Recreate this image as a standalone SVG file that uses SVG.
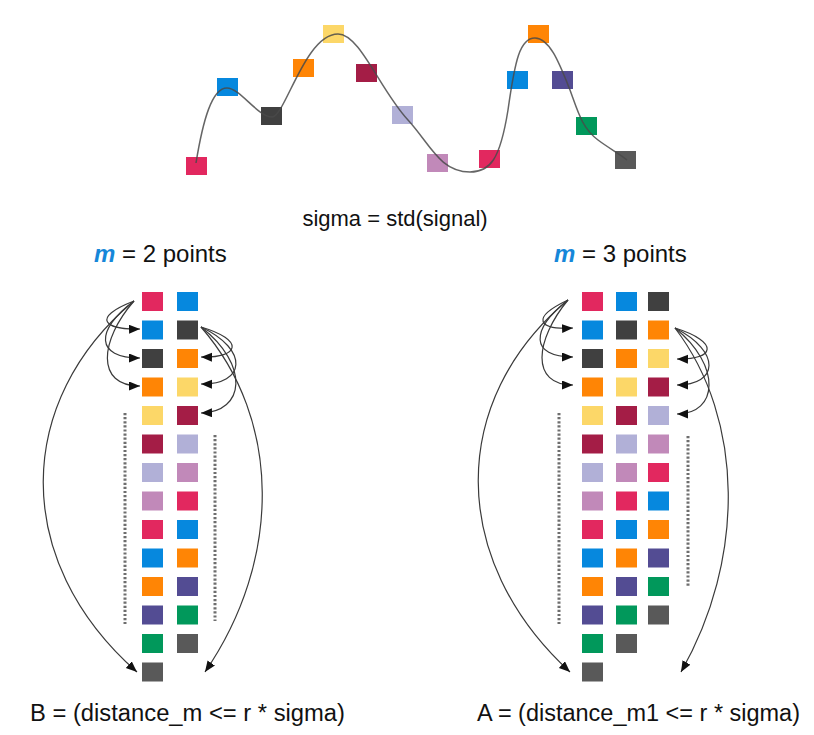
<svg xmlns="http://www.w3.org/2000/svg" width="814" height="735" viewBox="0 0 814 735">
<defs>
<style>
.pk{fill:#e2285f}.bl{fill:#0688de}.dk{fill:#404040}.or{fill:#ff8505}.ye{fill:#fcd768}.cr{fill:#a41d46}.lv{fill:#b1b0d7}.mv{fill:#c189b9}.pu{fill:#534c93}.gr{fill:#01985b}.gy{fill:#595959}
.t{font-family:"Liberation Sans",Arial,sans-serif;fill:#111}
.conn{fill:none;stroke:#3a3a3a;stroke-width:1.2;marker-end:url(#ah)}
.dots{fill:none;stroke:#6e6e6e;stroke-width:3;stroke-dasharray:2.2 1.9}
</style>
<marker id="ah" markerUnits="userSpaceOnUse" markerWidth="12" markerHeight="10" refX="11" refY="4.5" orient="auto">
<path d="M0,0 L11,4.5 L0,9 z" fill="#111"/>
</marker>
</defs>
<rect width="814" height="735" fill="#ffffff"/>

<g id="signal">
<rect class="pk" x="186" y="157" width="21" height="18"/>
<rect class="bl" x="217" y="78" width="21" height="18"/>
<rect class="dk" x="261" y="107" width="21" height="18"/>
<rect class="or" x="293" y="59" width="21" height="18"/>
<rect class="ye" x="323" y="25" width="21" height="18"/>
<rect class="cr" x="356" y="64" width="21" height="18"/>
<rect class="lv" x="392" y="106" width="21" height="18"/>
<rect class="mv" x="427" y="154" width="21" height="18"/>
<rect class="pk" x="479" y="150" width="21" height="18"/>
<rect class="bl" x="507" y="71" width="21" height="18"/>
<rect class="or" x="528" y="25" width="21" height="18"/>
<rect class="pu" x="552" y="71" width="21" height="18"/>
<rect class="gr" x="576" y="117" width="21" height="18"/>
<rect class="gy" x="615" y="151" width="21" height="18"/>
<path d="M196,163 C203,120 212,88 227,88 C240,88 258,117 272,117 C285,117 305,34 338,34 C360,34 380,90 408,120 C430,144 440,172 470,172 C490,172 500,160 508,110 C515,60 520,38 535,38 C550,38 560,65 570,90 C578,112 582,128 598,140 C610,149 620,154 627,160" fill="none" stroke="#4a4a4a" stroke-width="1.5" stroke-opacity="0.85"/>
</g>

<text class="t" x="395" y="226" font-size="22" text-anchor="middle">sigma = std(signal)</text>

<g id="label-m2">
<text class="t" x="94" y="262" font-size="24"><tspan font-weight="bold" font-style="italic" fill="#1687d9">m</tspan> = 2 points</text>
</g>
<g id="label-m3">
<text class="t" x="554" y="262" font-size="24"><tspan font-weight="bold" font-style="italic" fill="#1687d9">m</tspan> = 3 points</text>
</g>

<g id="grid-m2">
<g id="m2-col1">
<rect class="pk" x="142" y="292" width="21" height="19"/>
<rect class="bl" x="142" y="320.5" width="21" height="19"/>
<rect class="dk" x="142" y="349" width="21" height="19"/>
<rect class="or" x="142" y="377.5" width="21" height="19"/>
<rect class="ye" x="142" y="406" width="21" height="19"/>
<rect class="cr" x="142" y="434.5" width="21" height="19"/>
<rect class="lv" x="142" y="463" width="21" height="19"/>
<rect class="mv" x="142" y="491.5" width="21" height="19"/>
<rect class="pk" x="142" y="520" width="21" height="19"/>
<rect class="bl" x="142" y="548.5" width="21" height="19"/>
<rect class="or" x="142" y="577" width="21" height="19"/>
<rect class="pu" x="142" y="605.5" width="21" height="19"/>
<rect class="gr" x="142" y="634" width="21" height="19"/>
<rect class="gy" x="142" y="662.5" width="21" height="19"/>
</g>
<g id="m2-col2">
<rect class="bl" x="177" y="292" width="21" height="19"/>
<rect class="dk" x="177" y="320.5" width="21" height="19"/>
<rect class="or" x="177" y="349" width="21" height="19"/>
<rect class="ye" x="177" y="377.5" width="21" height="19"/>
<rect class="cr" x="177" y="406" width="21" height="19"/>
<rect class="lv" x="177" y="434.5" width="21" height="19"/>
<rect class="mv" x="177" y="463" width="21" height="19"/>
<rect class="pk" x="177" y="491.5" width="21" height="19"/>
<rect class="bl" x="177" y="520" width="21" height="19"/>
<rect class="or" x="177" y="548.5" width="21" height="19"/>
<rect class="pu" x="177" y="577" width="21" height="19"/>
<rect class="gr" x="177" y="605.5" width="21" height="19"/>
<rect class="gy" x="177" y="634" width="21" height="19"/>
</g>
<line class="dots" x1="125" y1="413" x2="125" y2="624"/>
<line class="dots" x1="215" y1="435" x2="215" y2="621"/>
</g>

<g id="grid-m3">
<g id="m3-col1">
<rect class="pk" x="582" y="292" width="21" height="19"/>
<rect class="bl" x="582" y="320.5" width="21" height="19"/>
<rect class="dk" x="582" y="349" width="21" height="19"/>
<rect class="or" x="582" y="377.5" width="21" height="19"/>
<rect class="ye" x="582" y="406" width="21" height="19"/>
<rect class="cr" x="582" y="434.5" width="21" height="19"/>
<rect class="lv" x="582" y="463" width="21" height="19"/>
<rect class="mv" x="582" y="491.5" width="21" height="19"/>
<rect class="pk" x="582" y="520" width="21" height="19"/>
<rect class="bl" x="582" y="548.5" width="21" height="19"/>
<rect class="or" x="582" y="577" width="21" height="19"/>
<rect class="pu" x="582" y="605.5" width="21" height="19"/>
<rect class="gr" x="582" y="634" width="21" height="19"/>
<rect class="gy" x="582" y="662.5" width="21" height="19"/>
</g>
<g id="m3-col2">
<rect class="bl" x="616" y="292" width="21" height="19"/>
<rect class="dk" x="616" y="320.5" width="21" height="19"/>
<rect class="or" x="616" y="349" width="21" height="19"/>
<rect class="ye" x="616" y="377.5" width="21" height="19"/>
<rect class="cr" x="616" y="406" width="21" height="19"/>
<rect class="lv" x="616" y="434.5" width="21" height="19"/>
<rect class="mv" x="616" y="463" width="21" height="19"/>
<rect class="pk" x="616" y="491.5" width="21" height="19"/>
<rect class="bl" x="616" y="520" width="21" height="19"/>
<rect class="or" x="616" y="548.5" width="21" height="19"/>
<rect class="pu" x="616" y="577" width="21" height="19"/>
<rect class="gr" x="616" y="605.5" width="21" height="19"/>
<rect class="gy" x="616" y="634" width="21" height="19"/>
</g>
<g id="m3-col3">
<rect class="dk" x="648" y="292" width="21" height="19"/>
<rect class="or" x="648" y="320.5" width="21" height="19"/>
<rect class="ye" x="648" y="349" width="21" height="19"/>
<rect class="cr" x="648" y="377.5" width="21" height="19"/>
<rect class="lv" x="648" y="406" width="21" height="19"/>
<rect class="mv" x="648" y="434.5" width="21" height="19"/>
<rect class="pk" x="648" y="463" width="21" height="19"/>
<rect class="bl" x="648" y="491.5" width="21" height="19"/>
<rect class="or" x="648" y="520" width="21" height="19"/>
<rect class="pu" x="648" y="548.5" width="21" height="19"/>
<rect class="gr" x="648" y="577" width="21" height="19"/>
<rect class="gy" x="648" y="605.5" width="21" height="19"/>
</g>
<line class="dots" x1="559" y1="413" x2="559" y2="624"/>
<line class="dots" x1="688" y1="436" x2="688" y2="586"/>
</g>

<g id="connectors">
<path class="conn" d="M134,301 C90,318 105,330 140,329"/>
<path class="conn" d="M134,301 C95,330 95,358 140,358"/>
<path class="conn" d="M134,301 C100,340 95,386 140,386"/>
<path class="conn" d="M134,301 C15,400 10,560 137,672"/>
<path class="conn" d="M201,327 C245,340 240,358 201,357"/>
<path class="conn" d="M201,327 C250,350 245,385 201,384"/>
<path class="conn" d="M201,327 C250,365 245,412 201,413"/>
<path class="conn" d="M201,327 C282,420 282,560 205,672"/>
<path class="conn" d="M568,300 C530,318 538,330 573,328"/>
<path class="conn" d="M568,300 C530,330 530,357 573,357"/>
<path class="conn" d="M568,300 C535,340 530,385 573,385"/>
<path class="conn" d="M568,300 C448,400 448,560 570,672"/>
<path class="conn" d="M675,328 C720,342 715,360 677,359"/>
<path class="conn" d="M675,328 C722,352 718,385 677,385"/>
<path class="conn" d="M675,328 C722,366 718,414 677,414"/>
<path class="conn" d="M675,328 C745,420 745,560 681,672"/>
</g>

<text class="t" x="30" y="721" font-size="23" textLength="315" lengthAdjust="spacingAndGlyphs">B = (distance_m &lt;= r * sigma)</text>
<text class="t" x="477" y="721" font-size="23" textLength="323" lengthAdjust="spacingAndGlyphs">A = (distance_m1 &lt;= r * sigma)</text>
</svg>
